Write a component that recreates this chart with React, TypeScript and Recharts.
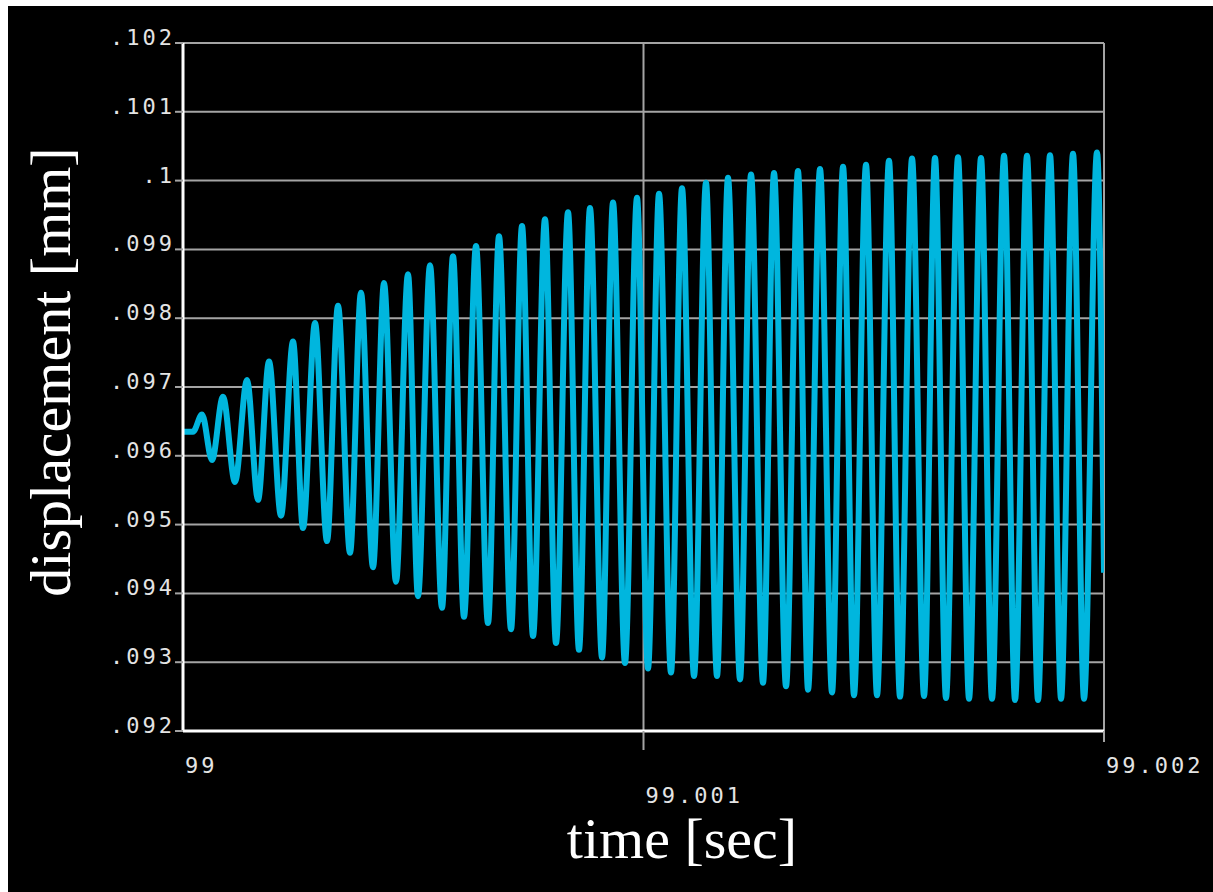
import React from 'react';
import { LineChart, Line, XAxis, YAxis, CartesianGrid, Label } from 'recharts';

const timeValues = [
  99.0, 99.0000217, 99.0000413, 99.000063, 99.0000869, 99.0001129, 99.000139, 99.0001629,
  99.0001868, 99.0002128, 99.0002389, 99.0002606, 99.0002867, 99.0003127, 99.0003366, 99.0003627,
  99.0003865, 99.0004126, 99.0004365, 99.0004625, 99.0004886, 99.0005103, 99.0005364, 99.0005624,
  99.0005863, 99.0006102, 99.0006363, 99.0006623, 99.0006862, 99.0007123, 99.0007362, 99.0007601,
  99.0007861, 99.00081, 99.0008361, 99.0008599, 99.0008838, 99.0009099, 99.0009338, 99.0009598,
  99.0009859, 99.0010098, 99.0010337, 99.0010597, 99.0010836, 99.0011097, 99.0011357, 99.0011596,
  99.0011835, 99.0012096, 99.0012335, 99.0012595, 99.0012834, 99.0013095, 99.0013355, 99.0013573,
  99.0013833, 99.0014094, 99.0014333, 99.0014571, 99.0014832, 99.0015071, 99.0015331, 99.001557,
  99.0015831, 99.0016092, 99.001633, 99.0016569, 99.001683, 99.0017069, 99.0017329, 99.0017568,
  99.0017829, 99.0018068, 99.0018328, 99.0018567, 99.0018828, 99.0019067, 99.0019327, 99.0019566,
  99.0019848, 99.002,
];

const displacementValues = [
  0.09635, 0.09635, 0.0966, 0.09594, 0.09686, 0.09562, 0.0971, 0.09536,
  0.09737, 0.09513, 0.09766, 0.09495, 0.09793, 0.09476, 0.09818, 0.09459,
  0.09837, 0.09438, 0.09851, 0.09417, 0.09864, 0.09396, 0.09877, 0.09379,
  0.0989, 0.09366, 0.09905, 0.09357, 0.09919, 0.09348, 0.09934, 0.09338,
  0.09944, 0.09328, 0.09954, 0.09318, 0.0996, 0.09307, 0.09968, 0.09299,
  0.09975, 0.09291, 0.09981, 0.09285, 0.09989, 0.0928, 0.09997, 0.0928,
  0.10004, 0.09275, 0.10009, 0.0927, 0.10011, 0.09265, 0.10014, 0.0926,
  0.10017, 0.09256, 0.1002, 0.09252, 0.10023, 0.09252, 0.10029, 0.0925,
  0.10032, 0.09251, 0.10033, 0.09248, 0.10034, 0.09247, 0.10033, 0.09247,
  0.10036, 0.09245, 0.10036, 0.09245, 0.10037, 0.09247, 0.10039, 0.09247,
  0.10041, 0.0943,
];

const yTicks = [0.092, 0.093, 0.094, 0.095, 0.096, 0.097, 0.098, 0.099, 0.1, 0.101, 0.102];
const yTickLabels = ['.092', '.093', '.094', '.095', '.096', '.097', '.098', '.099', '.1', '.101', '.102'];
const xTicks = [99, 99.001, 99.002];
const xTickLabels = ['99', '99.001', '99.002'];

const data = timeValues.map((t, i) => ({ t, d: displacementValues[i] }));

const TICK_COLOR = '#e4e4e4';
const GRID_COLOR = '#a4a4a4';

const nearestIndex = (arr: number[], v: number) => {
  let best = 0;
  for (let i = 1; i < arr.length; i++) {
    if (Math.abs(arr[i] - v) < Math.abs(arr[best] - v)) best = i;
  }
  return best;
};

const YTick = (props: any) => {
  const { x, y, payload } = props;
  const idx = nearestIndex(yTicks, payload.value);
  return (
    <text
      x={x + 3}
      y={y + 2}
      textAnchor="end"
      fill={TICK_COLOR}
      fontFamily="'DejaVu Sans Mono', monospace"
      fontSize={22}
      letterSpacing={3}
    >
      {yTickLabels[idx]}
    </text>
  );
};

const XTick = (props: any) => {
  const { x, y, payload } = props;
  const idx = nearestIndex(xTicks, payload.value);
  const ext = [0, 19, 11][idx];
  const dy = idx === 1 ? 72 : 42;
  return (
    <g>
      {ext > 0 && <line x1={x} y1={y} x2={x} y2={y + ext} stroke={GRID_COLOR} strokeWidth={2} />}
      <text
        x={x + 2}
        y={y + dy}
        textAnchor="start"
        fill={TICK_COLOR}
        fontFamily="'DejaVu Sans Mono', monospace"
        fontSize={22}
        letterSpacing={3}
      >
        {xTickLabels[idx]}
      </text>
    </g>
  );
};

const XLabel = () => (
  <text
    x={674}
    y={852}
    textAnchor="middle"
    fill="#ffffff"
    fontFamily="'Liberation Serif', 'Times New Roman', serif"
    fontSize={58}
  >
    time [sec]
  </text>
);

const YLabel = () => (
  <text
    x={62}
    y={366}
    transform="rotate(-90, 62, 366)"
    textAnchor="middle"
    fill="#ffffff"
    fontFamily="'Liberation Serif', 'Times New Roman', serif"
    fontSize={58}
  >
    displacement [mm]
  </text>
);

export default function App() {
  return (
    <div
      style={{
        position: 'absolute',
        left: 8,
        top: 6,
        width: 1205,
        height: 886,
        background: '#000000',
      }}
    >
      <LineChart
        width={1205}
        height={886}
        data={data}
        margin={{ top: 37, right: 109, bottom: 0, left: 0 }}
      >
        <CartesianGrid stroke={GRID_COLOR} strokeWidth={2} />
        <XAxis
          type="number"
          dataKey="t"
          domain={[99, 99.002]}
          ticks={xTicks}
          allowDataOverflow
          height={161}
          tickSize={0}
          tickMargin={0}
          tickLine={false}
          axisLine={{ stroke: '#ffffff', strokeWidth: 3 }}
          tick={<XTick />}
          interval={0}
        >
          <Label content={<XLabel />} />
        </XAxis>
        <YAxis
          type="number"
          domain={[0.092, 0.102]}
          ticks={yTicks}
          allowDataOverflow
          width={175}
          tickSize={8}
          tickMargin={3}
          tickLine={{ stroke: GRID_COLOR, strokeWidth: 2 }}
          axisLine={{ stroke: '#ffffff', strokeWidth: 3 }}
          tick={<YTick />}
          interval={0}
        >
          <Label content={<YLabel />} />
        </YAxis>
        <Line
          type="monotone"
          dataKey="d"
          stroke="#00b6de"
          strokeWidth={6}
          dot={false}
          isAnimationActive={false}
        />
      </LineChart>
    </div>
  );
}
